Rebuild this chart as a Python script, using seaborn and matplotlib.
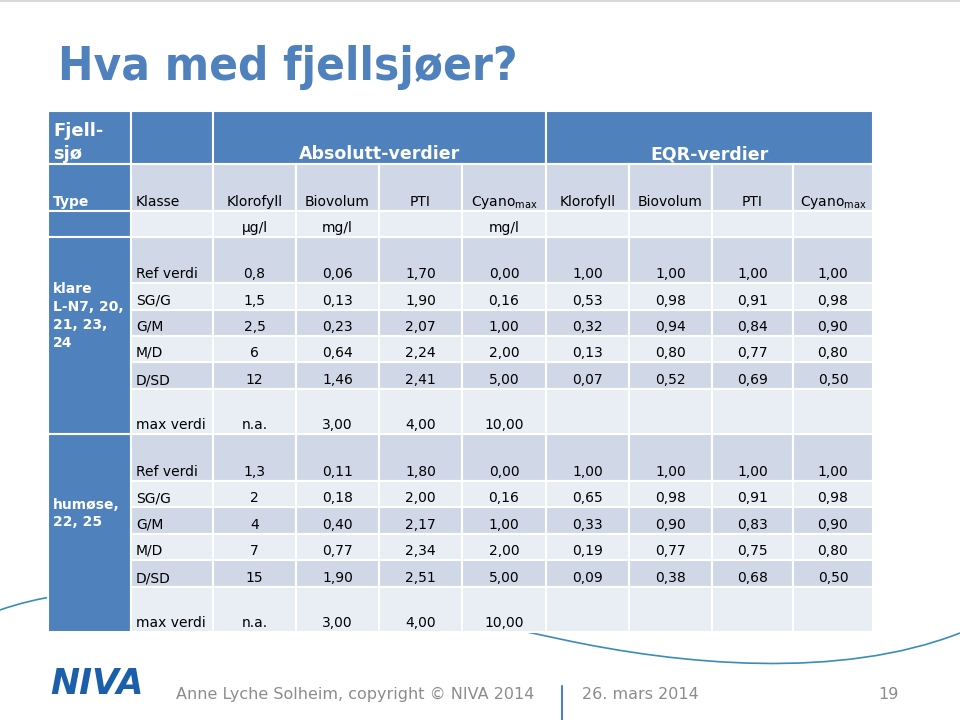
import numpy as np
import pandas as pd
import matplotlib
matplotlib.use("Agg")
import matplotlib.pyplot as plt
from matplotlib.patches import Rectangle, PathPatch
from matplotlib.path import Path
import seaborn as sns

sns.set_theme(style="white")
plt.rcParams['font.family'] = ['DejaVu Sans']

# ---------------- data ----------------
tittel = "Hva med fjellsjøer?"
klasser = ["Ref verdi", "SG/G", "G/M", "M/D", "D/SD"]
parametre = ["Klorofyll", "Biovolum", "PTI", "Cyano$_{\\mathrm{max}}$"]
enheter = ["µg/l", "mg/l", "", "mg/l"]
max_verdi = [None, 3.00, 4.00, 10.00]   # Klorofyll has no max (n.a.)

# klare innsjøer (L-N7, 20, 21, 23, 24)
klare_klorofyll = [0.8, 1.5, 2.5, 6, 12]
klare_biovolum = [0.06, 0.13, 0.23, 0.64, 1.46]
klare_pti = [1.70, 1.90, 2.07, 2.24, 2.41]
klare_cyano = [0.00, 0.16, 1.00, 2.00, 5.00]
klare_eqr_klorofyll = [1.00, 0.53, 0.32, 0.13, 0.07]
klare_eqr_biovolum = [1.00, 0.98, 0.94, 0.80, 0.52]
klare_eqr_pti = [1.00, 0.91, 0.84, 0.77, 0.69]
klare_eqr_cyano = [1.00, 0.98, 0.90, 0.80, 0.50]

# humøse innsjøer (22, 25)
humose_klorofyll = [1.3, 2, 4, 7, 15]
humose_biovolum = [0.11, 0.18, 0.40, 0.77, 1.90]
humose_pti = [1.80, 2.00, 2.17, 2.34, 2.51]
humose_cyano = [0.00, 0.16, 1.00, 2.00, 5.00]
humose_eqr_klorofyll = [1.00, 0.65, 0.33, 0.19, 0.09]
humose_eqr_biovolum = [1.00, 0.98, 0.90, 0.77, 0.38]
humose_eqr_pti = [1.00, 0.91, 0.83, 0.75, 0.68]
humose_eqr_cyano = [1.00, 0.98, 0.90, 0.80, 0.50]

typer = ["klare\nL-N7, 20,\n21, 23,\n24", "humøse,\n22, 25"]


def make_block(klf, bio, pti, cya, e_klf, e_bio, e_pti, e_cya):
    return pd.DataFrame({'Klasse': klasser, 'Klorofyll': klf, 'Biovolum': bio,
                         'PTI': pti, 'Cyano': cya, 'EQR Klorofyll': e_klf,
                         'EQR Biovolum': e_bio, 'EQR PTI': e_pti, 'EQR Cyano': e_cya})


blocks = [
    make_block(klare_klorofyll, klare_biovolum, klare_pti, klare_cyano,
               klare_eqr_klorofyll, klare_eqr_biovolum, klare_eqr_pti, klare_eqr_cyano),
    make_block(humose_klorofyll, humose_biovolum, humose_pti, humose_cyano,
               humose_eqr_klorofyll, humose_eqr_biovolum, humose_eqr_pti, humose_eqr_cyano),
]


def fmt(v, general=False):
    if v is None:
        return "n.a."
    s = f"{v:g}" if general else f"{v:.2f}"
    return s.replace('.', ',')


# ---------------- layout ----------------
blue = "#4F81BD"
dark = "#D0D8E8"
light = "#E9EDF4"
txt = "#000000"

col_edges = [48, 131, 213, 296, 379, 462, 546, 629, 712, 793, 873]
head_edges = [111, 164, 211, 237]
block_edges = [[237, 283, 310, 336, 362, 389, 434],
               [434, 481, 507, 534, 560, 587, 632]]

fig = plt.figure(figsize=(9.6, 7.2), dpi=100)
ax = fig.add_axes([0, 0, 1, 1])
ax.set_xlim(0, 960)
ax.set_ylim(720, 0)
ax.axis('off')

# top border of slide
ax.axhline(1, color="#D9D9D9", lw=1.5)

# decorative wave (drawn under the table)
wave = Path([(0, 610), (150, 557), (440, 613), (560, 639),
             (680, 665), (840, 680), (960, 633)],
            [Path.MOVETO, Path.CURVE4, Path.CURVE4, Path.CURVE4,
             Path.CURVE4, Path.CURVE4, Path.CURVE4])
ax.add_patch(PathPatch(wave, fill=False, edgecolor="#3A8DB8", lw=1.2, zorder=1))


def cell(c0, c1, r0, r1, color):
    ax.add_patch(Rectangle((col_edges[c0], r0), col_edges[c1] - col_edges[c0], r1 - r0,
                           facecolor=color, edgecolor="white", lw=1.5, zorder=2))


def ctext(c0, c1, ybot, s, **kw):
    x = (col_edges[c0] + col_edges[c1]) / 2
    opts = dict(ha='center', va='baseline', fontsize=10, color=txt, zorder=3)
    opts.update(kw)
    ax.text(x, ybot - 5, s, **opts)


# header row 1
r0, r1 = head_edges[0], head_edges[1]
cell(0, 1, r0, r1, blue)
cell(1, 2, r0, r1, blue)
cell(2, 6, r0, r1, blue)
cell(6, 10, r0, r1, blue)
ax.text(col_edges[0] + 5, r1 - 5, "Fjell-\nsjø", ha='left', va='baseline', fontsize=13,
        fontweight='bold', color='white', linespacing=1.35, zorder=3)
ctext(2, 6, r1, "Absolutt-verdier", fontweight='bold', color='white', fontsize=12.5)
ctext(6, 10, r1, "EQR-verdier", fontweight='bold', color='white', fontsize=12.5)

# header row 2 (parameters) and row 3 (units)
for k, (r0, r1) in enumerate([(head_edges[1], head_edges[2]), (head_edges[2], head_edges[3])]):
    cell(0, 1, r0, r1, blue)
    for c in range(1, 10):
        cell(c, c + 1, r0, r1, dark if k == 0 else light)
r1 = head_edges[2]
ax.text(col_edges[0] + 5, r1 - 5, "Type", ha='left', va='baseline', fontsize=10,
        fontweight='bold', color='white', zorder=3)
ax.text(col_edges[1] + 5, r1 - 5, "Klasse", ha='left', va='baseline', fontsize=10,
        color=txt, zorder=3)
for i, p in enumerate(parametre):
    ctext(2 + i, 3 + i, r1, p)
    ctext(6 + i, 7 + i, r1, p)
for i, u in enumerate(enheter):
    ctext(2 + i, 3 + i, head_edges[3], u)

# body blocks
cols = ['Klorofyll', 'Biovolum', 'PTI', 'Cyano',
        'EQR Klorofyll', 'EQR Biovolum', 'EQR PTI', 'EQR Cyano']
for b, df in enumerate(blocks):
    edges = block_edges[b]
    cell(0, 1, edges[0], edges[-1], blue)
    ax.text(col_edges[0] + 5, (edges[0] + edges[-1]) / 2 - 19.5, typer[b], ha='left',
            va='center', fontsize=10, fontweight='bold', color='white',
            linespacing=1.35, zorder=3)
    for r in range(6):
        r0, r1 = edges[r], edges[r + 1]
        color = dark if r % 2 == 0 else light
        for c in range(1, 10):
            cell(c, c + 1, r0, r1, color)
        if r < 5:
            row = df.iloc[r]
            ax.text(col_edges[1] + 5, r1 - 5, row['Klasse'], ha='left', va='baseline',
                    fontsize=10, color=txt, zorder=3)
            for j, name in enumerate(cols):
                ctext(2 + j, 3 + j, r1, fmt(row[name], general=(name == 'Klorofyll')))
        else:
            ax.text(col_edges[1] + 5, r1 - 5, "max verdi", ha='left', va='baseline',
                    fontsize=10, color=txt, zorder=3)
            for j, v in enumerate(max_verdi):
                ctext(2 + j, 3 + j, r1, fmt(v))

# title
ax.text(58, 80, tittel, ha='left', va='baseline', fontsize=34, fontweight='bold',
        fontstretch='condensed', color=blue)

# footer
ax.text(50, 694, "NIVA", ha='left', va='baseline', fontsize=25, fontweight='bold',
        fontstyle='italic', color="#1B5FAA")
grey = "#8C8C8C"
ax.text(176, 699, "Anne Lyche Solheim, copyright © NIVA 2014", ha='left', va='baseline',
        fontsize=11.5, color=grey)
ax.plot([562, 562], [686, 720], color=blue, lw=1.5)
ax.text(582, 699, "26. mars 2014", ha='left', va='baseline', fontsize=11.5, color=grey)
ax.text(899, 699, "19", ha='right', va='baseline', fontsize=11.5, color=grey)

fig.savefig("out.png", dpi=100)
